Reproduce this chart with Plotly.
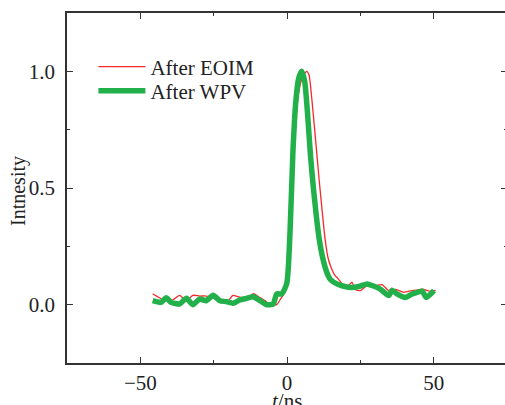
import plotly.graph_objects as go

# After EOIM (red, thin)
t_eoim = [-45.8, -43.5, -41.2, -39.0, -36.6, -34.3, -32.1, -29.8, -27.5, -25.2, -22.9,
          -20.6, -18.4, -16.1, -13.8, -11.5, -9.2, -7.0, -6.0, -3.5, -2.4, -1.0, 0.0,
          1.0, 2.0, 3.0, 4.0, 5.0, 6.0, 6.7, 7.5, 8.0, 9.0, 10.0, 11.0, 12.0, 13.0,
          14.0, 15.0, 16.4, 17.2, 18.7, 20.0, 21.2, 22.2, 23.2, 25.0, 27.3, 29.5,
          32.4, 34.7, 37.1, 39.8, 42.5, 44.0, 46.1, 48.5, 50.7]
i_eoim = [0.047, 0.030, 0.017, 0.020, 0.040, 0.017, 0.040, 0.037, 0.037, 0.028, 0.020,
          0.010, 0.040, 0.032, 0.020, 0.047, 0.030, 0.012, 0.000, 0.000, 0.020, 0.050, 0.120,
          0.330, 0.580, 0.790, 0.910, 0.965, 0.990, 1.000, 0.985, 0.940, 0.810, 0.670, 0.530,
          0.400, 0.280, 0.200, 0.160, 0.124, 0.115, 0.090, 0.075, 0.085, 0.096, 0.065,
          0.060, 0.082, 0.080, 0.086, 0.060, 0.065, 0.053, 0.060, 0.062, 0.067, 0.058, 0.060]

# After WPV (green, thick)
t_wpv = [-45.8, -42.9, -41.2, -39.5, -36.6, -34.3, -32.1, -29.8, -27.5, -25.2, -22.9,
         -20.6, -18.4, -16.1, -13.8, -11.5, -9.2, -7.0, -4.7, -3.5, -1.8, -0.1, 1.0,
         2.0, 3.0, 4.0, 5.0, 6.0, 7.0, 8.0, 9.0, 10.0, 11.0, 12.0, 13.0, 14.0, 15.0,
         17.0, 19.0, 21.6, 24.5, 27.3, 29.5, 31.8, 34.7, 35.8, 37.6, 40.4, 42.5,
         44.4, 46.1, 47.5, 50.1]
i_wpv = [0.017, 0.010, 0.030, 0.010, 0.003, 0.027, 0.000, 0.024, 0.017, 0.040, 0.017,
         0.013, 0.006, 0.020, 0.027, 0.034, 0.017, 0.000, 0.003, 0.046, 0.046, 0.090, 0.300,
         0.650, 0.870, 0.970, 1.000, 0.960, 0.820, 0.640, 0.500, 0.380, 0.280, 0.210,
         0.160, 0.125, 0.105, 0.089, 0.080, 0.074, 0.078, 0.089, 0.080, 0.067, 0.039,
         0.062, 0.045, 0.031, 0.045, 0.053, 0.058, 0.031, 0.060]

x_tickvals = [-50, 0, 50]
x_ticktext = ["\u221250", "0", "50"]
y_tickvals = [0.0, 0.5, 1.0]
y_ticktext = ["0.0", "0.5", "1.0"]

FONT = "Liberation Serif, Times New Roman, serif"

fig = go.Figure()
fig.add_trace(go.Scatter(x=t_eoim, y=i_eoim, mode="lines", name="After EOIM", legend="legend",
                         line=dict(color="#f52a2a", width=1.3, shape="spline", smoothing=0.6)))
fig.add_trace(go.Scatter(x=t_wpv, y=i_wpv, mode="lines", name="After WPV", legend="legend2",
                         line=dict(color="#22b04b", width=5.5, shape="spline", smoothing=0.6)))

axis_common = dict(showline=True, linecolor="#333333", linewidth=1.5, mirror="ticks",
                   ticks="inside", ticklen=6, tickwidth=1, tickcolor="#333333",
                   showgrid=False, zeroline=False, automargin=False,
                   tickfont=dict(family=FONT, size=21, color="#222222"))

fig.update_xaxes(range=[-75, 75], tickvals=x_tickvals, ticktext=x_ticktext,
                 minor=dict(ticks="inside", ticklen=3, dtick=25, tick0=0, tickcolor="#333333", showgrid=False),
                 **axis_common)
fig.update_yaxes(range=[-0.25, 1.25], tickvals=y_tickvals, ticktext=y_ticktext,
                 minor=dict(ticks="inside", ticklen=3, dtick=0.25, tick0=0, tickcolor="#333333", showgrid=False),
                 ticklabelstandoff=6,
                 **axis_common)

# axis titles as text, placed as in the reference (x title partly cut by the bottom edge)
fig.add_annotation(text="<i>t</i>/ns", x=0, xref="x", y=0, yref="paper",
                   xanchor="center", yanchor="top", yshift=-24, showarrow=False,
                   font=dict(family=FONT, size=21, color="#222222"))
fig.add_annotation(text="Intnesity", x=0, xref="paper", y=0.5, yref="paper",
                   xanchor="center", yanchor="middle", xshift=-49, yshift=-3, textangle=-90,
                   showarrow=False, font=dict(family=FONT, size=20, color="#222222"))

legend_common = dict(xanchor="left", yanchor="middle", bgcolor="rgba(0,0,0,0)", borderwidth=0,
                     font=dict(family=FONT, size=21, color="#222222"), itemwidth=47)

fig.update_layout(
    width=507, height=405,
    margin=dict(l=67, r=0, t=13, b=42),
    plot_bgcolor="white", paper_bgcolor="white",
    showlegend=True,
    legend=dict(x=0.06, y=0.846, **legend_common),
    legend2=dict(x=0.06, y=0.777, **legend_common),
)

fig.write_html("out.html", config={"displayModeBar": False},
               post_script="document.body.style.margin='0px';document.body.style.overflow='hidden';")
